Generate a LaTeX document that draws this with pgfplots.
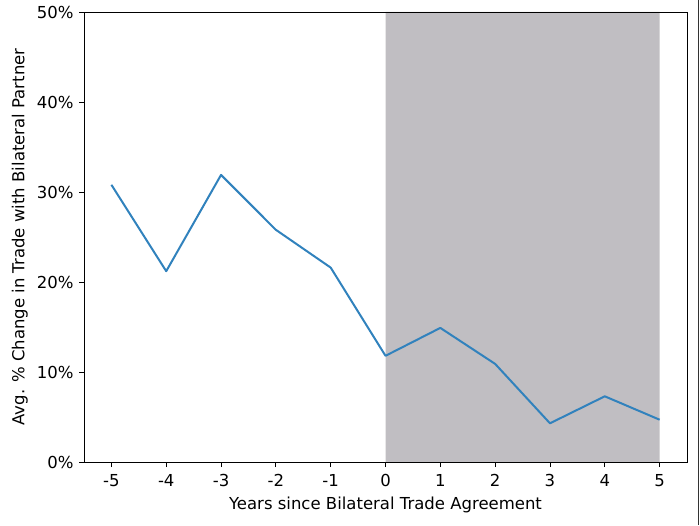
\documentclass[border=0pt]{standalone}
\usepackage{fontspec}
\setmainfont{DejaVu Sans}
\usepackage{pgfplots}
\pgfplotsset{compat=1.18}

\definecolor{lineblue}{RGB}{49,130,189}
\definecolor{shade}{RGB}{192,190,194}

\begin{document}
\begin{tikzpicture}
    \begin{axis}[
            name=main,
            scale only axis,
            width=603pt,
            height=450pt,
            xmin=-5.5, xmax=5.5,
            ymin=0, ymax=50,
            xtick={-5,-4,...,5},
            ytick={0,10,...,50},
            yticklabel={\pgfmathprintnumber{\tick}\%},
            /pgf/number format/assume math mode=true,
            tick style={black, line width=0.8pt},
            major tick length=5pt,
            tick align=outside,
            xtick pos=bottom,
            ytick pos=left,
            axis line style={line width=0.8pt},
            ticklabel style={font=\fontsize{16.5}{19}\selectfont},
            label style={font=\fontsize{16.5}{19}\selectfont},
            xticklabel style={yshift=-4pt},
            yticklabel style={xshift=-2pt},
            xlabel style={yshift=-3pt},
            ylabel style={yshift=2pt},
            xlabel={Years since Bilateral Trade Agreement},
            ylabel={Avg. \% Change in Trade with Bilateral Partner},
            axis on top,
        ]
        \addplot[draw=none, fill=shade] coordinates {
                (0, 0) (5, 0) (5, 50) (0, 50)
            } \closedcycle;
        \addplot[color=lineblue, line width=2pt, line join=round] coordinates {
                (-5, 30.8)
                (-4, 21.2)
                (-3, 31.9)
                (-2, 25.8)
                (-1, 21.6)
                (0, 11.8)
                (1, 14.9)
                (2, 10.9)
                (3, 4.3)
                (4, 7.3)
                (5, 4.7)
            };
    \end{axis}
    \path (main.south west) ++(-84pt,-63pt) coordinate (bl);
    \useasboundingbox (bl) rectangle ++(700pt,525pt);
    \draw[black!80, line width=1pt] (bl) ++(698pt,0) -- ++(0,525pt);
\end{tikzpicture}
\end{document}
